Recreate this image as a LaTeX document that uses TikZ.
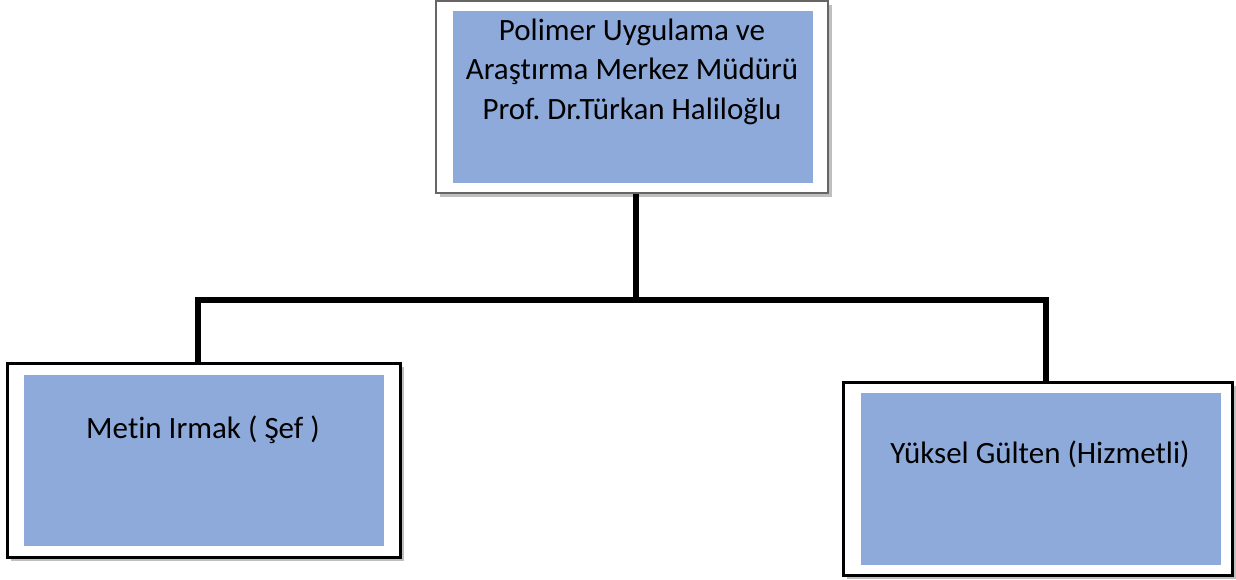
\documentclass[tikz,border=0pt]{standalone}
\usepackage{fontspec}
\setmainfont{Carlito}[Ligatures=NoCommon]
\usetikzlibrary{shadows}
\definecolor{boxblue}{HTML}{8EAADB}
\definecolor{topgray}{HTML}{666666}
\definecolor{shadowgray}{HTML}{BFBFBF}
\frenchspacing
\begin{document}
\begin{tikzpicture}[x=1pt,y=-1pt,
  outerbox/.style={draw=black, line width=3pt, fill=white, rectangle, inner sep=0pt,
    drop shadow={shadow xshift=3.5pt, shadow yshift=-3.5pt, fill=shadowgray, opacity=1}},
  innerbox/.style={fill=boxblue, rectangle, inner sep=0pt, minimum width=360pt},
  label/.style={font=\fontsize{31}{39.5}\selectfont\frenchspacing, align=center, inner sep=0pt, anchor=base},
  conn/.style={draw=black, line width=5.5pt, line join=miter}]
\useasboundingbox (0,0) rectangle (1236,579);
% top box
\node[outerbox, draw=topgray, line width=2.5pt, minimum width=392pt, minimum height=192pt] (top) at (632,97) {};
\node[innerbox, minimum height=172pt] (topin) at (633,97) {};
\node[label] (toptxt) at (632,119) {Polimer Uygulama ve\\Araştırma Merkez Müdürü\\Prof. Dr.Türkan Haliloğlu};
% left box
\node[outerbox, minimum width=393pt, minimum height=194pt] (left) at (203.5,460) {};
\node[innerbox, minimum height=171pt] (leftin) at (204,460.5) {};
\node[label] (lefttxt) at (203,438) {Metin Irmak ( Şef )};
% right box
\node[outerbox, minimum width=389pt, minimum height=193pt] (right) at (1037.5,478.5) {};
\node[innerbox, minimum height=172pt] (rightin) at (1041,479) {};
\node[label] (righttxt) at (1040,463) {Yüksel Gülten (Hizmetli)};
% connectors
\coordinate (j) at (636,300);
\coordinate (jl) at (198,300);
\coordinate (jr) at (1046,300);
\draw[conn] (j |- top.south) -- (j);
\draw[conn] (jl |- left.north) -- (jl) -- (jr) -- (jr |- right.north);
\end{tikzpicture}
\end{document}
